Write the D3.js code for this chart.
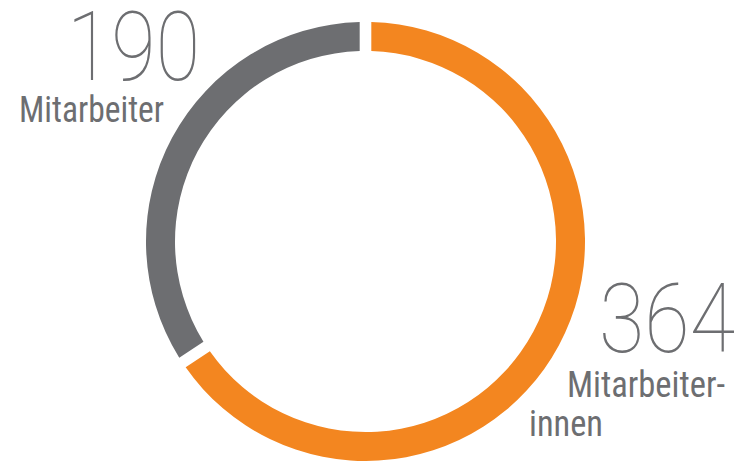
<!DOCTYPE html>
<html>
<head>
<meta charset="utf-8">
<script src="https://cdn.jsdelivr.net/npm/d3@7"></script>
<style>
  html, body { margin: 0; padding: 0; background: #fff; }
  svg { display: block; }
</style>
</head>
<body>
<svg id="chart" width="737" height="461"></svg>
<script>
const categories = ["Mitarbeiterinnen", "Mitarbeiter"];
const values = [364, 190];
const colors = ["#F38620", "#6D6E71"];
const labelLines = [["Mitarbeiter-", "innen"], ["Mitarbeiter"]];

const svg = d3.select("#chart");
const cx = 365.5, cy = 241.5, outerR = 219.5, innerR = 190.5;

const pie = d3.pie().sort(null).value(d => d).startAngle(0).endAngle(2 * Math.PI);
const arcs = pie(values);
const arc = d3.arc().innerRadius(innerR).outerRadius(outerR).padAngle(0.04);

const g = svg.append("g").attr("transform", `translate(${cx},${cy})`);
g.selectAll("path").data(arcs).join("path")
  .attr("d", arc)
  .attr("fill", (d, i) => colors[i]);

const textColor = "#6D6E71";
const numFont = "Roboto, 'Liberation Sans', sans-serif";
const lblFont = "'Liberation Sans Narrow', 'Roboto Condensed', 'Liberation Sans', sans-serif";

const layout = [
  { nx: 599, ny: 352, nw: 136, lx: [567, 529], ly: [397, 436], lw: [158, 74] },
  { nx: 67, ny: 80, nw: 133, lx: [19], ly: [122], lw: [145] }
];

layout.forEach((L, i) => {
  svg.append("text")
    .attr("x", L.nx).attr("y", L.ny)
    .attr("font-family", numFont)
    .attr("font-weight", 100)
    .attr("font-size", 97)
    .attr("fill", textColor)
    .attr("textLength", L.nw)
    .attr("lengthAdjust", "spacingAndGlyphs")
    .text(values[i]);
  labelLines[i].forEach((line, j) => {
    svg.append("text")
      .attr("x", L.lx[j]).attr("y", L.ly[j])
      .attr("font-family", lblFont)
      .attr("font-size", 36)
      .attr("fill", textColor)
      .attr("textLength", L.lw[j])
      .attr("lengthAdjust", "spacingAndGlyphs")
      .text(line);
  });
});
</script>
</body>
</html>
